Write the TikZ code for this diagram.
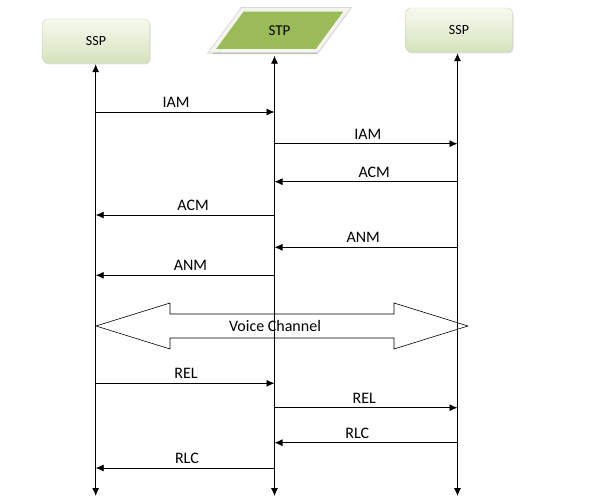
\documentclass[tikz,border=0pt]{standalone}
\usepackage{fontspec}
\setmainfont{Carlito}
\usepackage{xcolor}
\usepackage{tikz}
\usetikzlibrary{arrows.meta,shapes.geometric,shadows}

\definecolor{ssptop}{HTML}{F7FAF0}
\definecolor{sspbottom}{HTML}{D6E3BC}
\definecolor{sspedge}{HTML}{C5D4A8}
\definecolor{stpgreen}{HTML}{9BBB59}
\definecolor{stpedge}{HTML}{F3F5EE}

\begin{document}
\begin{tikzpicture}[x=1pt,y=1pt,
    sspbox/.style={rectangle, rounded corners=5pt, draw=sspedge, top color=ssptop, bottom color=sspbottom,
        minimum width=107pt, minimum height=44pt, font=\fontsize{14}{17}\selectfont,
        drop shadow={opacity=0.25, shadow xshift=1.2pt, shadow yshift=-1.5pt}},
    stpbox/.style={trapezium, trapezium left angle=55, trapezium right angle=125, trapezium stretches=true,
        minimum width=135pt, minimum height=41pt, fill=stpgreen, draw=stpedge, line width=3.5pt,
        preaction={draw=black!15, line width=5.5pt},
        drop shadow={fill=black!45, opacity=0.5, shadow xshift=0pt, shadow yshift=-3pt},
        font=\fontsize{15}{18}\selectfont},
    lifeline/.style={{Latex[length=8pt,width=7pt]}-{Latex[length=8pt,width=7pt]}, line width=0.8pt},
    msg/.style={-{Latex[length=8pt,width=7pt]}, line width=0.8pt},
    msglabel/.style={above=3pt, inner sep=1pt, font=\fontsize{16}{19}\selectfont}]
    \useasboundingbox (0,0) rectangle (610,-502);

    % Nodes
    \node[sspbox] (ssp1) at (96,-41) {SSP};
    \node[stpbox] (stp) at (279.5,-30.5) {STP};
    \node[sspbox] (ssp2) at (459,-30) {SSP};

    % Lifelines
    \coordinate (l1) at (95.7,-496);
    \coordinate (l2) at (274.5,-496);
    \coordinate (l3) at (457.5,-496);
    \draw[lifeline, shorten >=1pt] (l1) -- (l1 |- ssp1.south);
    \draw[lifeline, shorten >=3pt] (l2) -- (l2 |- stp.south);
    \draw[lifeline, shorten >=1pt] (l3) -- (l3 |- ssp2.south);

    % Call set-up
    \foreach \y/\from/\to/\txt/\p in {112/l1/l2/IAM/0.45, 143.7/l2/l3/IAM/0.51,
        181.7/l3/l2/ACM/0.455, 215/l2/l1/ACM/0.455,
        247.3/l3/l2/ANM/0.515, 275.3/l2/l1/ANM/0.47}
        \draw[msg] (\from |- 0,-\y) -- (\to |- 0,-\y) node[msglabel, pos=\p] {\txt};

    % Voice channel
    \draw[line width=0.6pt] (96,-326) -- (170,-303) -- (170,-314) -- (394,-314) -- (394,-303)
        -- (468,-326) -- (394,-349) -- (394,-338) -- (170,-338) -- (170,-349) -- cycle;
    \node[font=\fontsize{16}{19}\selectfont] (voice) at (275,-326) {Voice Channel};

    % Release
    \foreach \y/\from/\to/\txt/\p in {383.3/l1/l2/REL/0.505, 407.7/l2/l3/REL/0.49,
        442.7/l3/l2/RLC/0.548, 468/l2/l1/RLC/0.49}
        \draw[msg] (\from |- 0,-\y) -- (\to |- 0,-\y) node[msglabel, pos=\p] {\txt};
\end{tikzpicture}
\end{document}
